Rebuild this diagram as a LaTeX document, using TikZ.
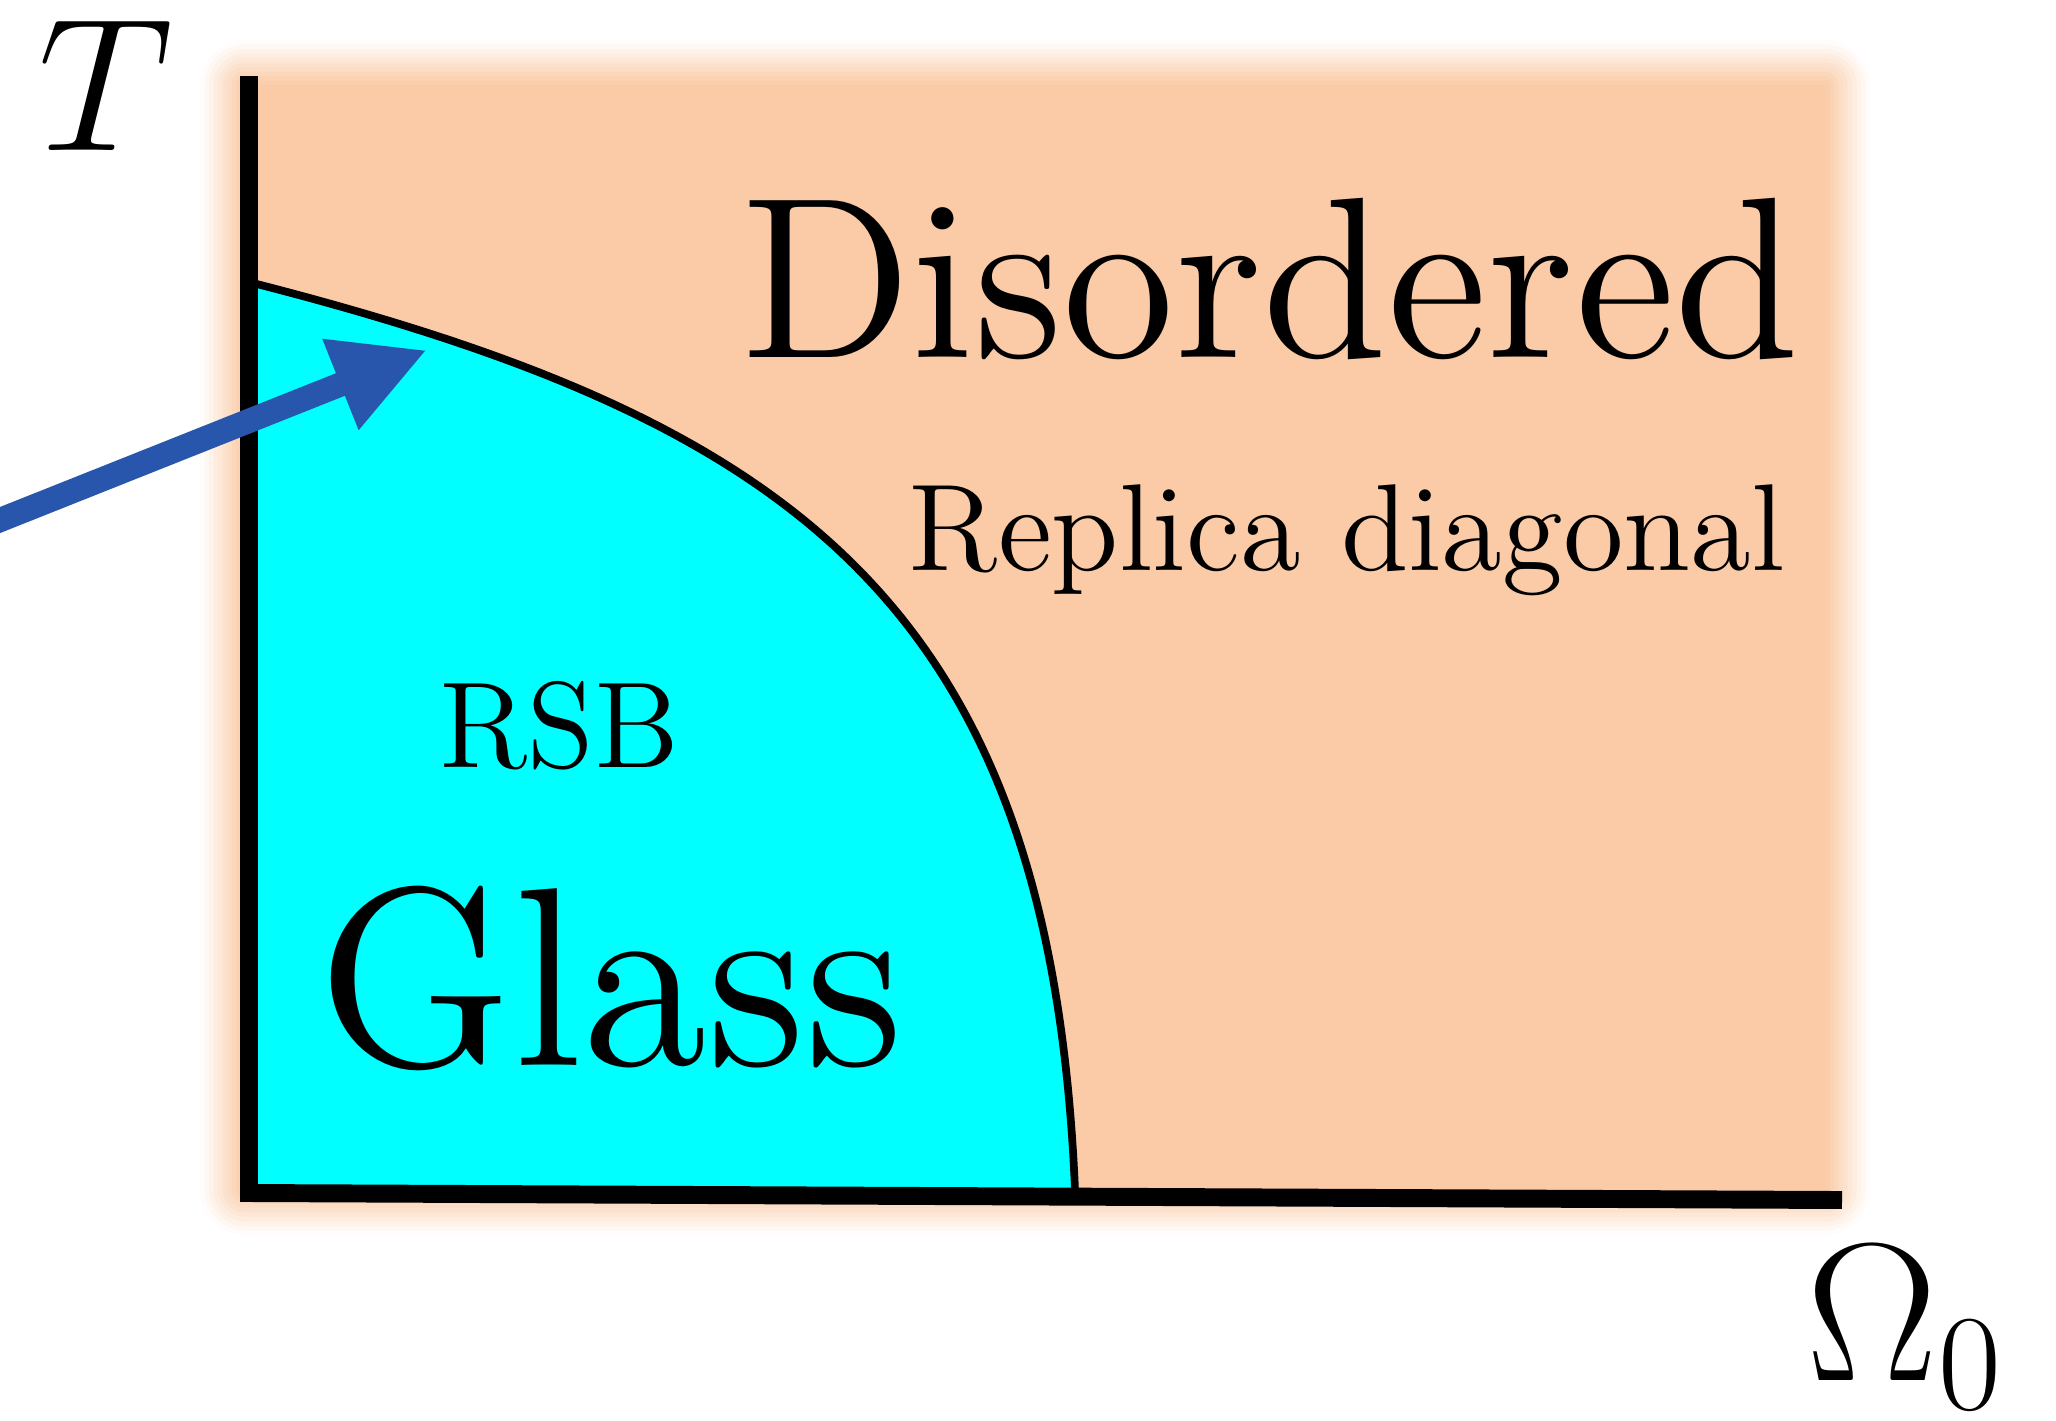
\documentclass[tikz,border=0pt]{standalone}
\usepackage{graphicx}
\usetikzlibrary{arrows.meta}
\definecolor{peach}{RGB}{250,203,166}
\definecolor{glasscyan}{RGB}{0,255,255}
\definecolor{arrowblue}{RGB}{41,86,173}
\newcommand{\bigtxt}[2]{\scalebox{#1}{\fontsize{12}{14}\selectfont #2}}
\begin{document}
\begin{tikzpicture}[x=0.01cm,y=-0.01cm,
  lbl/.style={inner sep=0pt,outer sep=0pt,anchor=base},
  axisline/.style={line width=5.1pt,line join=miter,line cap=butt},
  boundary/.style={line width=2.2pt},
  pointer/.style={line width=6.9pt,arrowblue,-{Triangle[length=26.5pt,width=25.9pt]}}]
\useasboundingbox (0,0) rectangle (2056,1420);
\fill[white] (0,0) rectangle (2056,1420);
% soft-edged disordered region
\foreach \i in {10,9,...,1}{
  \pgfmathtruncatemacro\p{105-10*\i}
  \fill[peach!\p!white, rounded corners={1.3pt*\i}]
    ({245-4.5*\i},{85-4.5*\i}) rectangle ({1825+4.5*\i},{1190+4.5*\i});
}
\fill[peach] (245,85) rectangle (1825,1190);
% glass region
\coordinate (ctop) at (249,282);
\coordinate (cbot) at (1075,1190);
\fill[glasscyan] (ctop) .. controls (790,420) and (1050,600) .. (cbot) -- (249,1190) -- cycle;
\draw[boundary] (ctop) .. controls (790,420) and (1050,600) .. (cbot);
% axes
\coordinate (ytop) at (249,76);
\coordinate (origin) at (249,1193);
\coordinate (xend) at (1842,1200);
\draw[axisline] (ytop) -- (origin) -- (xend);
% labels
\node[lbl] (T) at (106,150) {\bigtxt{4.5}{$T$}};
\node[lbl] (Om) at (1906,1380) {\scalebox{2.25}{\fontsize{24.88}{30}\selectfont$\Omega_{\scriptscriptstyle 0}$}};
\node[lbl] (dis) at (1270,357) {\bigtxt{5.44}{Disordered}};
\node[lbl] (rep) at (1347,570) {\bigtxt{2.93}{Replica diagonal}};
\node[lbl] (rsb) at (559,767) {\bigtxt{2.9}{RSB}};
\node[lbl] (gl) at (611,1065) {\bigtxt{6.04}{Glass}};
% arrow
\coordinate (astart) at (-15,526);
\coordinate (atip) at (427,350);
\draw[pointer] (astart) -- (atip);
\end{tikzpicture}
\end{document}
